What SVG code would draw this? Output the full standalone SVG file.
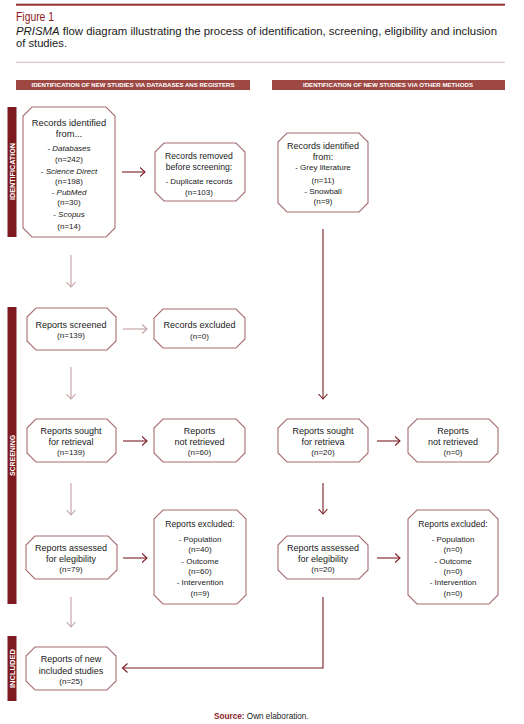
<svg xmlns="http://www.w3.org/2000/svg" width="524" height="724" viewBox="0 0 524 724">
<defs>
<style>
.bx{fill:#fff;stroke:#a86c70;stroke-width:1.1}
.t{font-family:"Liberation Sans",Arial,sans-serif;fill:#1a1a1a;text-anchor:middle}
.h{font-size:9px}
.s{font-size:8px}
.i{font-style:italic}
.cd{fill:none;stroke:#7b1c22;stroke-width:1.1}
.cl{fill:none;stroke:#c29ea1;stroke-width:1.1}
.bar{font-family:"Liberation Sans",Arial,sans-serif;font-weight:bold;fill:#fff;text-anchor:middle}
</style>
<marker id="ad" markerUnits="userSpaceOnUse" markerWidth="10" markerHeight="10" refX="5.5" refY="5" orient="auto"><path d="M0.5,0.5 L5.5,5 L0.5,9.5" fill="none" stroke="#7b1c22" stroke-width="1.1"/></marker>
<marker id="al" markerUnits="userSpaceOnUse" markerWidth="10" markerHeight="10" refX="5.5" refY="5" orient="auto"><path d="M0.5,0.5 L5.5,5 L0.5,9.5" fill="none" stroke="#c29ea1" stroke-width="1.1"/></marker>
</defs>
<rect width="524" height="724" fill="#fff"/>
<g id="header">
<rect x="16" y="3.7" width="489" height="2" fill="#962f33"/>
<text x="16" y="21" font-family="Liberation Sans,Arial,sans-serif" font-size="12" fill="#8b1a22" textLength="38" lengthAdjust="spacingAndGlyphs">Figure 1</text>
<text x="16" y="34.5" font-family="Liberation Sans,Arial,sans-serif" font-size="11.2" fill="#1a1a1a" textLength="481" lengthAdjust="spacingAndGlyphs"><tspan font-style="italic">PRISMA</tspan> flow diagram illustrating the process of identification, screening, eligibility and inclusion</text>
<text x="16" y="46.5" font-family="Liberation Sans,Arial,sans-serif" font-size="11.2" fill="#1a1a1a" textLength="51" lengthAdjust="spacingAndGlyphs">of studies.</text>
<rect x="16" y="61.8" width="489" height="1" fill="#cbb9b9"/>
<rect x="16" y="80" width="234" height="10" fill="#9d4843"/>
<text class="bar" x="133" y="87.3" font-size="6.2" textLength="203" lengthAdjust="spacingAndGlyphs">IDENTIFICATION OF NEW STUDIES VIA DATABASES ANS REGISTERS</text>
<rect x="272" y="80" width="233" height="10" fill="#9d4843"/>
<text class="bar" x="388" y="87.3" font-size="6.2" textLength="170" lengthAdjust="spacingAndGlyphs">IDENTIFICATION OF NEW STUDIES VIA OTHER METHODS</text>
</g>
<g id="phase-identification">
<rect x="7.5" y="107" width="9" height="130" fill="#7d1a20"/>
<text class="bar" transform="translate(14.6,171.5) rotate(-90)" font-size="7" textLength="57" lengthAdjust="spacingAndGlyphs">IDENTIFICATION</text>
</g>
<g id="phase-screening">
<rect x="7.5" y="307" width="9" height="297" fill="#7d1a20"/>
<text class="bar" transform="translate(14.6,455.5) rotate(-90)" font-size="7" textLength="41" lengthAdjust="spacingAndGlyphs">SCREENING</text>
</g>
<g id="phase-included">
<rect x="7.5" y="636" width="9" height="65" fill="#7d1a20"/>
<text class="bar" transform="translate(14.6,668.5) rotate(-90)" font-size="7" textLength="39" lengthAdjust="spacingAndGlyphs">INCLUDED</text>
</g>
<g id="connectors">
<path class="cl" d="M71,255 V287" marker-end="url(#al)"/>
<path class="cl" d="M71,367 V399" marker-end="url(#al)"/>
<path class="cl" d="M71,483 V515" marker-end="url(#al)"/>
<path class="cl" d="M71,597 V627" marker-end="url(#al)"/>
<path class="cd" d="M122,172 H145" marker-end="url(#ad)"/>
<path class="cl" d="M123,329 H147" marker-end="url(#al)"/>
<path class="cd" d="M123,441 H147" marker-end="url(#ad)"/>
<path class="cd" d="M123,558 H147" marker-end="url(#ad)"/>
<path class="cd" d="M323,229 V399" marker-end="url(#ad)"/>
<path class="cd" d="M323,483 V514" marker-end="url(#ad)"/>
<path class="cd" d="M323,597 V668 H122.5" marker-end="url(#ad)"/>
<path class="cd" d="M377,441 H400" marker-end="url(#ad)"/>
<path class="cd" d="M377,558 H400" marker-end="url(#ad)"/>
</g>
<g id="records-identified-db">
<path class="bx" d="M32,107 L106,107 L115,116 L115,228 L106,237 L32,237 L23,228 L23,116Z"/>
<text class="t" x="69" y="126" font-size="9.3">Records identified</text>
<text class="t" x="69" y="136.5" font-size="9.3">from...</text>
<text class="t s" x="69" y="150.5">- <tspan class="i">Databases</tspan></text>
<text class="t s" x="69" y="162">(n=242)</text>
<text class="t s" x="69" y="173.5">- <tspan class="i">Science Direct</tspan></text>
<text class="t s" x="69" y="184">(n=198)</text>
<text class="t s" x="69" y="195">- <tspan class="i">PubMed</tspan></text>
<text class="t s" x="69" y="205.3">(n=30)</text>
<text class="t s" x="69" y="217.3">- <tspan class="i">Scopus</tspan></text>
<text class="t s" x="69" y="228.7">(n=14)</text>
</g>
<g id="records-removed">
<path class="bx" d="M164,143 L236,143 L245,152 L245,192 L236,201 L164,201 L155,192 L155,152Z"/>
<text class="t" x="199" y="159" font-size="8.6">Records removed</text>
<text class="t" x="199" y="169.7" font-size="8.6">before screening:</text>
<text class="t s" x="199" y="184">- Duplicate records</text>
<text class="t s" x="199" y="194.7">(n=103)</text>
</g>
<g id="records-identified-other">
<path class="bx" d="M287,133 L359,133 L368,142 L368,203 L359,212 L287,212 L278,203 L278,142Z"/>
<text class="t" x="323" y="149" font-size="9">Records identified</text>
<text class="t" x="323" y="159.7" font-size="9">from:</text>
<text class="t s" x="323" y="170.3">- Grey literature</text>
<text class="t s" x="323" y="183">(n=11)</text>
<text class="t s" x="323" y="194">- Snowball</text>
<text class="t s" x="323" y="204">(n=9)</text>
</g>
<g id="reports-screened">
<path class="bx" d="M36,308 L107,308 L116,317 L116,341 L107,350 L36,350 L27,341 L27,317Z"/>
<text class="t h" x="71" y="328">Reports screened</text>
<text class="t s" x="71" y="338">(n=139)</text>
</g>
<g id="records-excluded">
<path class="bx" d="M163,309 L236,309 L245,318 L245,339 L236,348 L163,348 L154,339 L154,318Z"/>
<text class="t h" x="199.5" y="328">Records excluded</text>
<text class="t s" x="199.5" y="338.7">(n=0)</text>
</g>
<g id="reports-sought-db">
<path class="bx" d="M36,419 L107,419 L116,428 L116,453 L107,462 L36,462 L27,453 L27,428Z"/>
<text class="t h" x="71" y="434">Reports sought</text>
<text class="t h" x="71" y="445">for retrieval</text>
<text class="t s" x="71" y="455.3">(n=139)</text>
</g>
<g id="reports-not-retrieved-db">
<path class="bx" d="M163,419 L236,419 L245,428 L245,453 L236,462 L163,462 L154,453 L154,428Z"/>
<text class="t h" x="199.5" y="434">Reports</text>
<text class="t h" x="199.5" y="445">not retrieved</text>
<text class="t s" x="199.5" y="455.3">(n=60)</text>
</g>
<g id="reports-sought-other">
<path class="bx" d="M287,419 L359,419 L368,428 L368,453 L359,462 L287,462 L278,453 L278,428Z"/>
<text class="t h" x="323" y="434">Reports sought</text>
<text class="t h" x="323" y="445">for retrieva</text>
<text class="t s" x="323" y="455.3">(n=20)</text>
</g>
<g id="reports-not-retrieved-other">
<path class="bx" d="M417,419 L489,419 L498,428 L498,453 L489,462 L417,462 L408,453 L408,428Z"/>
<text class="t h" x="453" y="434">Reports</text>
<text class="t h" x="453" y="445">not retrieved</text>
<text class="t s" x="453" y="455.3">(n=0)</text>
</g>
<g id="reports-assessed-db">
<path class="bx" d="M35,536 L108,536 L117,545 L117,570 L108,579 L35,579 L26,570 L26,545Z"/>
<text class="t h" x="71" y="550.5">Reports assessed</text>
<text class="t h" x="71" y="562">for elegibility</text>
<text class="t s" x="71" y="572.3">(n=79)</text>
</g>
<g id="reports-excluded-db">
<path class="bx" d="M163,510 L237,510 L246,519 L246,595 L237,604 L163,604 L154,595 L154,519Z"/>
<text class="t" x="200" y="527.3" font-size="8.6">Reports excluded:</text>
<text class="t s" x="200" y="542">- Population</text>
<text class="t s" x="200" y="552">(n=40)</text>
<text class="t s" x="200" y="564">- Outcome</text>
<text class="t s" x="200" y="574">(n=60)</text>
<text class="t s" x="200" y="585.3">- Intervention</text>
<text class="t s" x="200" y="595.7">(n=9)</text>
</g>
<g id="reports-assessed-other">
<path class="bx" d="M287,536 L359,536 L368,545 L368,570 L359,579 L287,579 L278,570 L278,545Z"/>
<text class="t h" x="323" y="550.5">Reports assessed</text>
<text class="t h" x="323" y="562">for elegibility</text>
<text class="t s" x="323" y="572.3">(n=20)</text>
</g>
<g id="reports-excluded-other">
<path class="bx" d="M417,510 L489,510 L498,519 L498,595 L489,604 L417,604 L408,595 L408,519Z"/>
<text class="t" x="453" y="527.3" font-size="8.6">Reports excluded:</text>
<text class="t s" x="453" y="542">- Population</text>
<text class="t s" x="453" y="552">(n=0)</text>
<text class="t s" x="453" y="564">- Outcome</text>
<text class="t s" x="453" y="574">(n=0)</text>
<text class="t s" x="453" y="585.3">- Intervention</text>
<text class="t s" x="453" y="595.7">(n=0)</text>
</g>
<g id="reports-included">
<path class="bx" d="M35,647 L107,647 L116,656 L116,681 L107,690 L35,690 L26,681 L26,656Z"/>
<text class="t h" x="71" y="662.3">Reports of new</text>
<text class="t h" x="71" y="673.7">included studies</text>
<text class="t s" x="71" y="684">(n=25)</text>
</g>
<g id="source">
<text x="214" y="719" font-family="Liberation Sans,Arial,sans-serif" font-size="8.2" fill="#1a1a1a"><tspan font-weight="bold" fill="#8b1a22">Source:</tspan> Own elaboration.</text>
</g>
</svg>
